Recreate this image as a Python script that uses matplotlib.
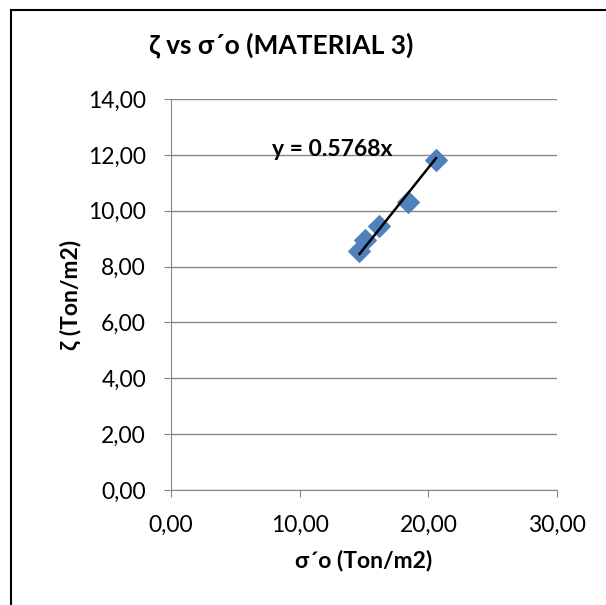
import matplotlib
matplotlib.use("Agg")
import matplotlib.pyplot as plt
from matplotlib.ticker import FuncFormatter
from matplotlib.patches import Rectangle
import numpy as np

plt.rcParams["font.family"] = ["Lato", "DejaVu Sans"]

# data
sigma_o = [14.65, 15.05, 16.15, 18.4, 20.6]   # σ´o (Ton/m2)
zeta = [8.55, 8.95, 9.45, 10.3, 11.8]          # ζ (Ton/m2)
slope = 0.5768
x_ticks = [0, 10, 20, 30]
y_ticks = [0, 2, 4, 6, 8, 10, 12, 14]

BLUE = "#4f81bd"
GRID = "#868686"

fig = plt.figure(figsize=(6.06, 6.05), dpi=100)
fig.patches.append(Rectangle((11/606, -0.01), 1.0, 1 - 10/605 + 0.01, transform=fig.transFigure,
                             fill=False, edgecolor="black", lw=1.5))
ax = fig.add_axes([171/606, 1 - 490/605, 386/606, 391/605])

ax.scatter(sigma_o, zeta, marker="D", s=120, color=BLUE, zorder=3)
xs = np.array([min(sigma_o), max(sigma_o)])
ax.plot(xs, slope * xs, color="black", lw=1.8, zorder=4)
ax.text(12.5, 12.2, f"y = {slope}x", ha="center", va="center", fontsize=16.5, fontweight="bold")

ax.set_xlim(0, 30); ax.set_ylim(0, 14)
ax.set_xticks(x_ticks); ax.set_yticks(y_ticks)
fmt = FuncFormatter(lambda v, p: f"{v:.2f}".replace(".", ","))
ax.xaxis.set_major_formatter(fmt); ax.yaxis.set_major_formatter(fmt)
ax.tick_params(labelsize=16.5, length=5, color=GRID)
ax.tick_params(axis="y", pad=13)
ax.tick_params(axis="x", pad=13)
ax.yaxis.grid(True, color=GRID, lw=1); ax.set_axisbelow(True)
for s in ["top", "right"]:
    ax.spines[s].set_visible(False)
for s in ["left", "bottom"]:
    ax.spines[s].set_color(GRID)

ax.set_xlabel("σ´o (Ton/m2)", fontsize=16.5, fontweight="bold", labelpad=10)
ax.set_ylabel("ζ (Ton/m2)", fontsize=16.5, fontweight="bold", labelpad=5)
fig.text(281/606, 1 - 45/605, "ζ vs σ´o (MATERIAL 3)", ha="center", va="center",
         fontsize=19, fontweight="bold")

fig.savefig("out.png", dpi=100)
